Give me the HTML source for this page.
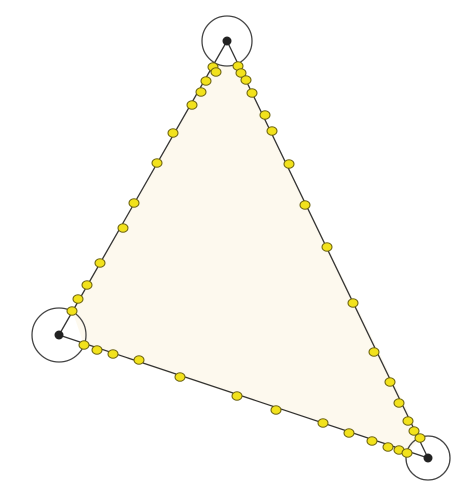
<!DOCTYPE html>
<html><head><meta charset="utf-8"><style>html,body{margin:0;padding:0;background:#fff;width:474px;height:490px;overflow:hidden}</style></head>
<body>
<svg id="chart" width="474" height="490" viewBox="0 0 474 490" xmlns="http://www.w3.org/2000/svg">
<polygon points="213,66 239,66 421,438 408,452 84,345 72,310" fill="#fdf9ee" stroke="none"/>
<g id="edges"></g>
<g id="vertices"></g>
<g id="dots"></g>
</svg>
<script>
const vertexX=[227,59,428];
const vertexY=[41,335,458];
const vertexR=[25,27,22];
const dotX=[213,216,206,201,192,173,157,134,123,100,87,78,72,
 238,241,246,252,265,272,289,305,327,353,374,390,399,408,414,420,
 84,97,113,139,180,237,276,323,349,372,388,399,407];
const dotY=[67,72,81,92,105,133,163,203,228,263,285,299,311,
 66,73,80,93,115,131,164,205,247,303,352,382,403,421,431,438,
 345,350,354,360,377,396,410,423,433,441,447,450,453];
const NS='http://www.w3.org/2000/svg';
const edges=document.getElementById('edges'),verts=document.getElementById('vertices'),dots=document.getElementById('dots');
for(let i=0;i<3;i++){
  const j=(i+1)%3;
  const l=document.createElementNS(NS,'line');
  l.setAttribute('x1',vertexX[i]);l.setAttribute('y1',vertexY[i]);
  l.setAttribute('x2',vertexX[j]);l.setAttribute('y2',vertexY[j]);
  l.setAttribute('stroke','#333');l.setAttribute('stroke-width','1.3');
  
  
  edges.appendChild(l);
}
for(let i=0;i<3;i++){
  const c=document.createElementNS(NS,'circle');
  c.setAttribute('cx',vertexX[i]);c.setAttribute('cy',vertexY[i]);c.setAttribute('r',vertexR[i]);
  c.setAttribute('fill','none');c.setAttribute('stroke','#444');c.setAttribute('stroke-width','1.3');
  
  
  verts.appendChild(c);
  const d=document.createElementNS(NS,'circle');
  d.setAttribute('cx',vertexX[i]);d.setAttribute('cy',vertexY[i]);d.setAttribute('r',4.5);
  d.setAttribute('fill','#222');
  
  
  verts.appendChild(d);
}
for(let i=0;i<dotX.length;i++){
  const e=document.createElementNS(NS,'ellipse');
  e.setAttribute('cx',dotX[i]);e.setAttribute('cy',dotY[i]);e.setAttribute('rx',5);e.setAttribute('ry',4.3);
  e.setAttribute('fill','#f2e21c');e.setAttribute('stroke','#6b6210');e.setAttribute('stroke-width','1');
  
  
  dots.appendChild(e);
}
</script>
</body></html>
